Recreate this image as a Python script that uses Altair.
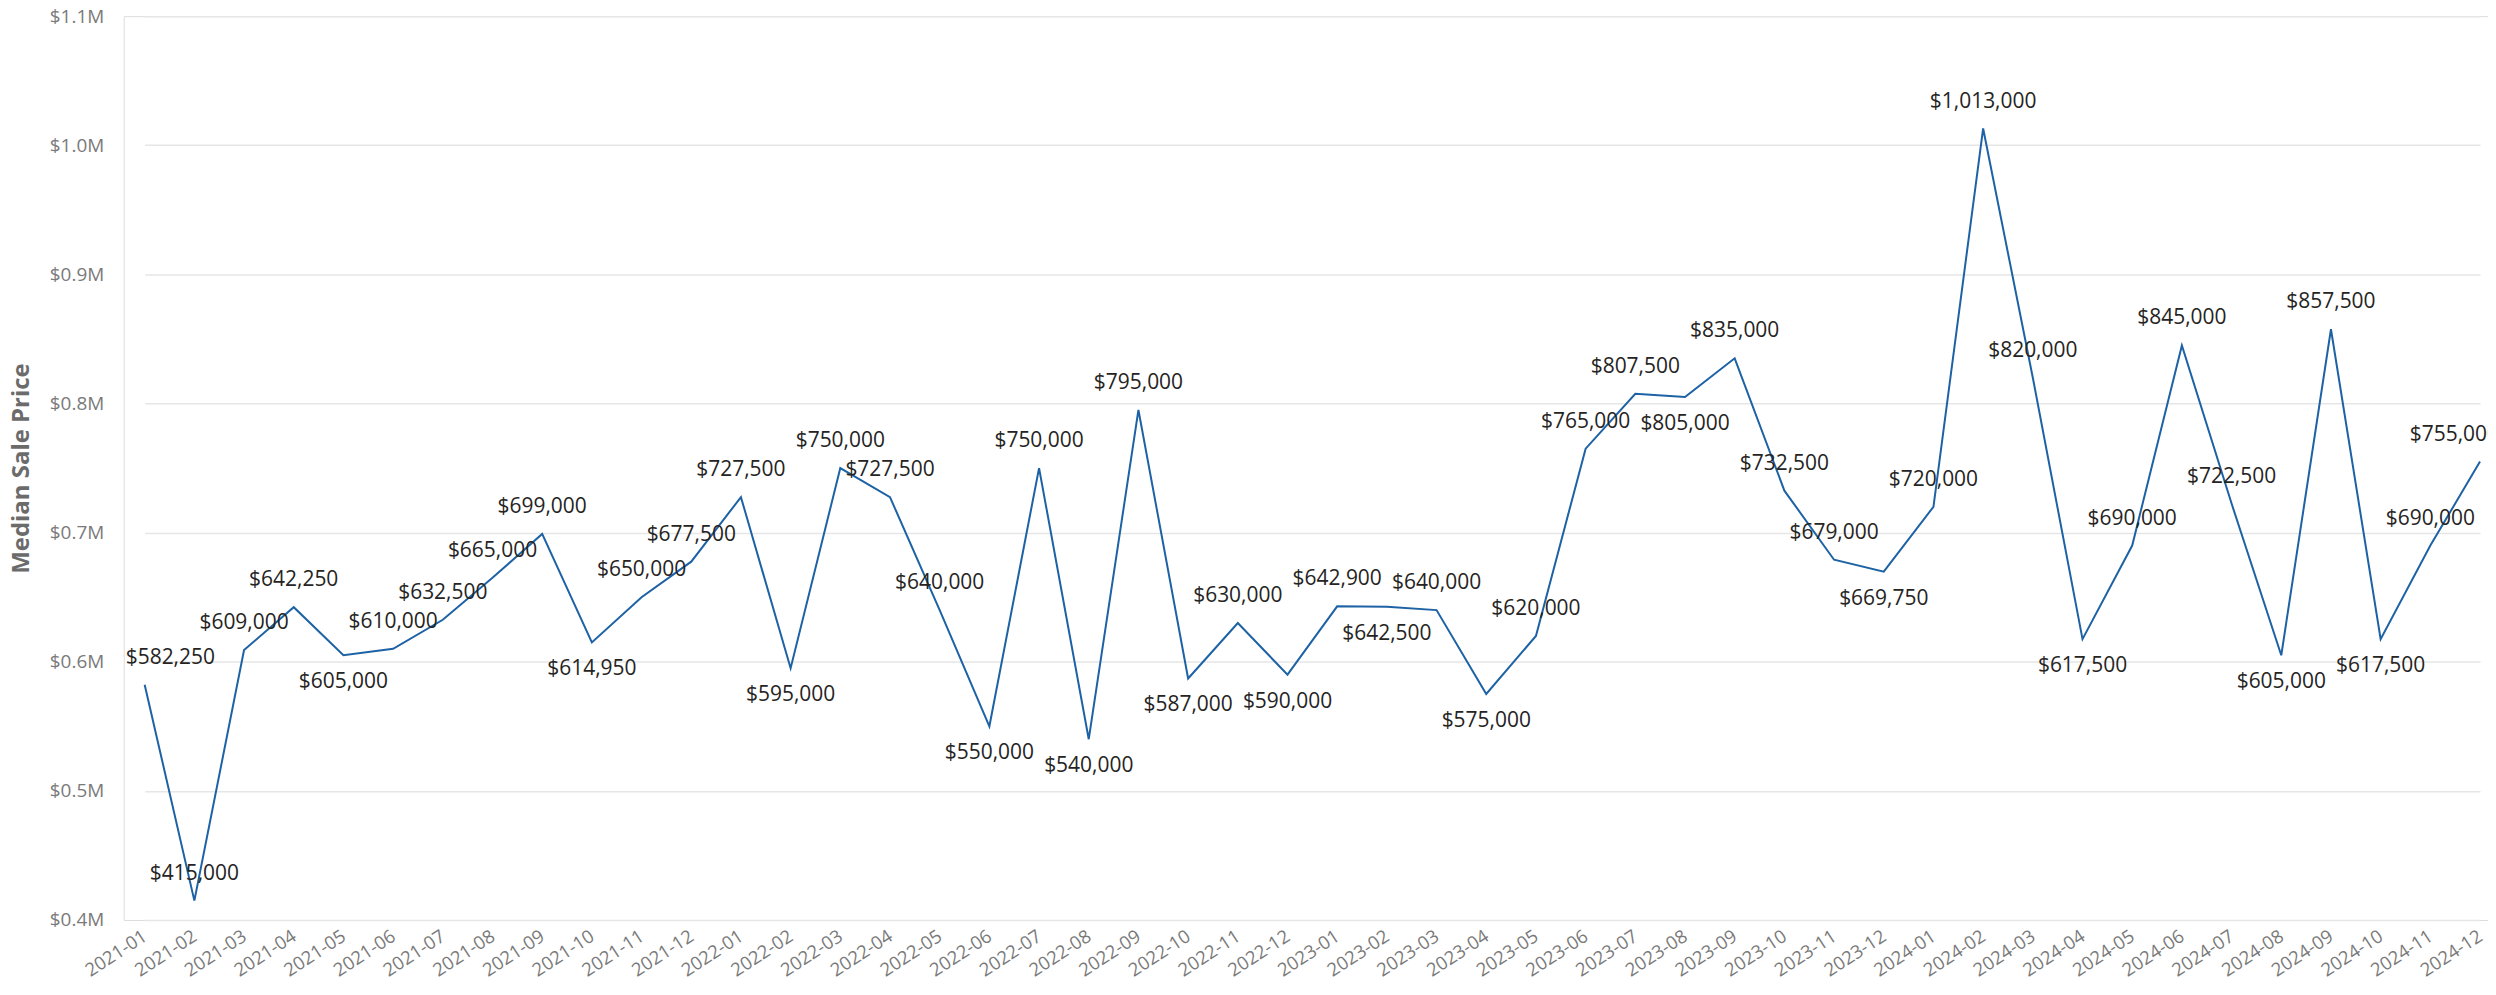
import altair as alt
import pandas as pd

months = [
    "2021-01", "2021-02", "2021-03", "2021-04", "2021-05", "2021-06",
    "2021-07", "2021-08", "2021-09", "2021-10", "2021-11", "2021-12",
    "2022-01", "2022-02", "2022-03", "2022-04", "2022-05", "2022-06",
    "2022-07", "2022-08", "2022-09", "2022-10", "2022-11", "2022-12",
    "2023-01", "2023-02", "2023-03", "2023-04", "2023-05", "2023-06",
    "2023-07", "2023-08", "2023-09", "2023-10", "2023-11", "2023-12",
    "2024-01", "2024-02", "2024-03", "2024-04", "2024-05", "2024-06",
    "2024-07", "2024-08", "2024-09", "2024-10", "2024-11", "2024-12",
]

prices = [
    582250, 415000, 609000, 642250, 605000, 610000,
    632500, 665000, 699000, 614950, 650000, 677500,
    727500, 595000, 750000, 727500, 640000, 550000,
    750000, 540000, 795000, 587000, 630000, 590000,
    642900, 642500, 640000, 575000, 620000, 765000,
    807500, 805000, 835000, 732500, 679000, 669750,
    720000, 1013000, 820000, 617500, 690000, 845000,
    722500, 605000, 857500, 617500, 690000, 755000,
]

y_ticks = [400000, 500000, 600000, 700000, 800000, 900000, 1000000, 1100000]

# label placement: above by default, below for local minima, or to avoid a
# collision with the previous label; edge labels are kept inside the plot
placement = []
for i, v in enumerate(prices):
    prev = prices[i - 1] if i > 0 else None
    nxt = prices[i + 1] if i < len(prices) - 1 else None
    local_min = prev is not None and nxt is not None and v < prev and v < nxt
    below = local_min and v > 450000
    if not below and i > 0 and placement[-1] == "above" and abs(v - prev) < 15000:
        below = True
    placement.append("below" if below else "above")

edge = ["first" if i == 0 else ("last" if i == len(prices) - 1 else "mid")
        for i in range(len(prices))]

df = pd.DataFrame({"month": months, "price": prices, "pos": placement, "edge": edge})

FONT = "Open Sans"
LINE = "#1d62a4"
LABEL_COLOR = "#252423"

x_enc = alt.X(
    "month:O",
    sort=months,
    scale=alt.Scale(type="point", range=[21, 2362], padding=0),
    axis=alt.Axis(
        title=None,
        labelAngle=-33,
        labelAlign="right",
        labelBaseline="middle",
        labelPadding=14,
        labelFontSize=18.5,
        labelColor="#7a7a7a",
        labelFont=FONT,
        ticks=False,
        domain=False,
        grid=False,
        labelOverlap=False,
    ),
)

y_enc = alt.Y(
    "price:Q",
    scale=alt.Scale(domain=[400000, 1100000], nice=False, zero=False),
    axis=alt.Axis(
        title="Median Sale Price",
        titleFont=FONT,
        titleFontSize=24,
        titleFontWeight="bold",
        titleColor="#6b6b6b",
        titlePadding=16,
        values=y_ticks,
        labelExpr='"$" + format(datum.value / 1000000, ".1f") + "M"',
        labelFont=FONT,
        labelFontSize=19,
        labelColor="#7a7a7a",
        labelPadding=20,
        ticks=False,
        tickSize=0,
        domain=False,
        grid=True,
        gridColor="#e6e6e6",
        gridWidth=1.5,
    ),
)

base = alt.Chart(df).encode(x=x_enc, y=y_enc)

line = base.mark_line(color=LINE, strokeWidth=2)

text_enc = alt.Text("price:Q", format="$,.0f")

label_above = base.transform_filter(
    (alt.datum.pos == "above") & (alt.datum.edge == "mid")
).mark_text(
    font=FONT, fontSize=21, color=LABEL_COLOR, dy=-27, baseline="middle"
).encode(text=text_enc)

label_below = base.transform_filter(
    (alt.datum.pos == "below") & (alt.datum.edge == "mid")
).mark_text(
    font=FONT, fontSize=21, color=LABEL_COLOR, dy=27, baseline="middle"
).encode(text=text_enc)

label_first = base.transform_filter(alt.datum.edge == "first").mark_text(
    font=FONT, fontSize=21, color=LABEL_COLOR, dy=-27, dx=-19,
    baseline="middle", align="left"
).encode(text=text_enc)

label_last = base.transform_filter(alt.datum.edge == "last").mark_text(
    font=FONT, fontSize=21, color=LABEL_COLOR, dy=-27, dx=19,
    baseline="middle", align="right"
).encode(text=text_enc)

chart = (
    alt.layer(line, label_above, label_below, label_first, label_last)
    .properties(
        width=2370,
        height=906,
        padding={"left": 116, "top": 7, "right": 0, "bottom": 60},
        autosize=alt.AutoSizeParams(type="none"),
    )
    .configure_view(stroke=None)
    .configure(background="white")
)

chart.save("out.html", embed_options={"renderer": "svg", "actions": False})
